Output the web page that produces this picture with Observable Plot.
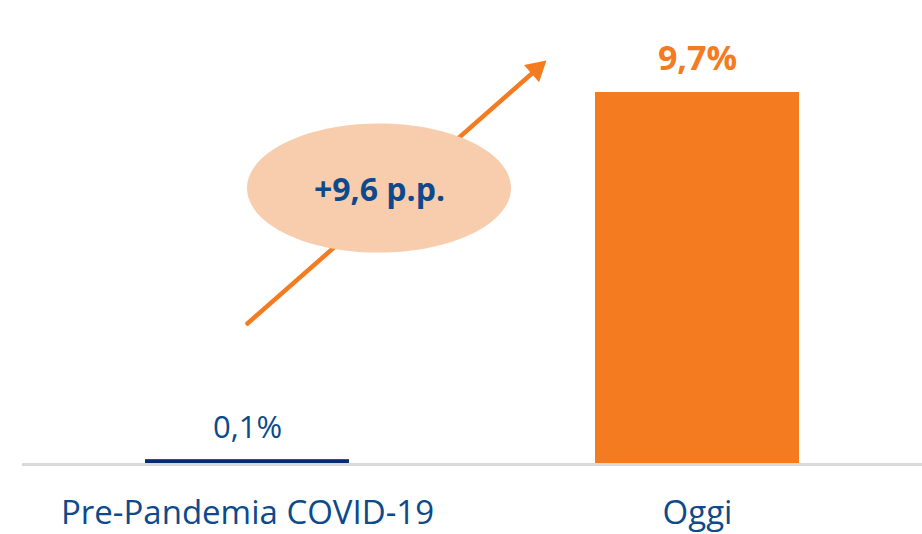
<!DOCTYPE html>
<html><head><meta charset="utf-8">
<script src="https://cdn.jsdelivr.net/npm/d3@7"></script>
<script src="https://cdn.jsdelivr.net/npm/@observablehq/plot@0.6"></script>
<style>body{margin:0;background:#fff;} #chart svg{display:block;}</style>
</head><body><div id="chart"></div>
<script>
// Data
const categories = ["Pre-Pandemia COVID-19", "Oggi"];
const values = [0.1, 9.7];
const barColors = ["#0b2a6f", "#f47b20"];

// Annotation (in data units): arrow from first to second period, badge with the difference
const arrowStart = {x: "Pre-Pandemia COVID-19", y: 3.66};
const arrowEnd = {x: "Oggi", y: 14.0};
const arrowTip = {x: "Oggi", y: 10.31};
const badge = {x: "Pre-Pandemia COVID-19", y: 7.2};

const it = d3.formatLocale({decimal: ",", thousands: ".", grouping: [3], currency: ["€", ""]});
const fmt = it.format(".1f");
const data = categories.map((c, i) => ({cat: c, value: values[i], color: barColors[i], label: fmt(values[i]) + "%"}));
const diff = values[1] - values[0];
const badgeText = "+" + fmt(diff) + " p.p.";

const orange = "#f47b20";
const textBlue = "#0d4a8c";
const FONT = "'Open Sans', sans-serif";

// custom ellipse symbol
const rx = 132, ry = 64.5, k = 0.5523;
const ellipse = {draw(ctx) {
  ctx.moveTo(rx, 0);
  ctx.bezierCurveTo(rx, ry * k, rx * k, ry, 0, ry);
  ctx.bezierCurveTo(-rx * k, ry, -rx, ry * k, -rx, 0);
  ctx.bezierCurveTo(-rx, -ry * k, -rx * k, -ry, 0, -ry);
  ctx.bezierCurveTo(rx * k, -ry, rx, -ry * k, rx, 0);
  ctx.closePath();
}};

const chart = Plot.plot({
  width: 922,
  height: 534,
  marginTop: 92,
  marginBottom: 71,
  marginLeft: 22,
  marginRight: 0,
  style: {fontFamily: FONT, background: "#fff"},
  x: {domain: categories, paddingInner: 0.546, paddingOuter: 0.272, axis: null},
  y: {domain: [0, 9.7], axis: null},
  marks: [
    Plot.ruleY([0], {stroke: "#d9d9d9", strokeWidth: 3, dy: 1}),
    Plot.barY(data, {x: "cat", y: "value", fill: "color"}),
    Plot.text(data.slice(0, 1), {x: "cat", y: "value", text: "label", fill: textBlue, fontSize: 31, lineAnchor: "bottom", dy: -22}),
    Plot.text(data.slice(1), {x: "cat", y: "value", text: "label", fill: orange, fontWeight: "bold", fontSize: 34, lineAnchor: "bottom", dy: -23}),
    Plot.text(categories, {x: (d) => d, frameAnchor: "bottom", lineAnchor: "bottom", text: (d) => d, fill: textBlue, fontSize: 33, dy: 60}),
    Plot.arrow([0], {x1: () => arrowStart.x, y1: () => arrowStart.y, x2: () => arrowEnd.x, y2: () => arrowEnd.y, stroke: orange, strokeWidth: 4.5, headLength: 0, insetEnd: 214}),
    Plot.dot([arrowTip], {x: "x", y: "y", dx: -161, symbol: "triangle", r: 8.5, fill: orange, rotate: 48.8}),
    Plot.dot([badge], {x: "x", y: "y", dx: 131.5, symbol: ellipse, fill: "#f8cdad"}),
    Plot.text([badge], {x: "x", y: "y", dx: 132, dy: 3, text: () => badgeText, fill: textBlue, fontWeight: "bold", fontSize: 32})
  ]
});
document.getElementById("chart").appendChild(chart);
</script>
</body></html>
